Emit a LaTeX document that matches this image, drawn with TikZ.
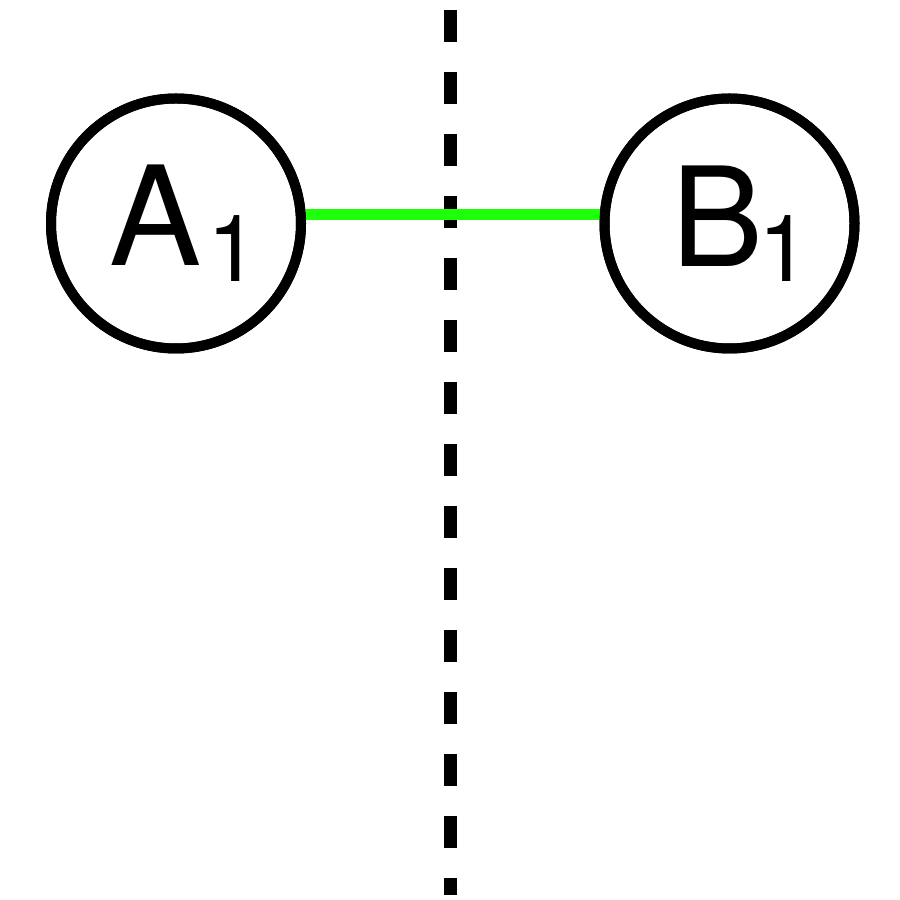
\documentclass[tikz,border=0pt]{standalone}
\usepackage{fontspec}
\setmainfont{TeX Gyre Heros}
\definecolor{linkgreen}{RGB}{30,255,10}
\begin{document}
\begin{tikzpicture}[x=1pt,y=1pt,
  vertex/.style={circle,draw=black,line width=10pt,minimum size=250pt,inner sep=0pt},
  bigletter/.style={inner sep=0pt,anchor=base west,font=\fontsize{138}{138}\selectfont},
  subdigit/.style={inner sep=0pt,anchor=base west,font=\fontsize{93}{93}\selectfont},
  divider/.style={line width=13pt,dash pattern=on 32pt off 30pt},
  link/.style={draw=linkgreen,line width=11pt}]
\useasboundingbox (0,0) rectangle (900,900);
\coordinate (top) at (450.5,890);
\coordinate (bottom) at (450.5,5);
\draw[divider] (top) -- (bottom);
\node[vertex] (A) at (176,676.5) {};
\node[vertex] (B) at (729.5,676.5) {};
\draw[link] ([yshift=8.5pt]A.east) -- ([yshift=8.5pt]B.west);
\node[vertex] at (A) {};
\node[vertex] at (B) {};
\node[bigletter] (Aname) at (109,634) {A};
\node[subdigit] (Aidx) at (207,618) {1};
\node[bigletter] (Bname) at (671,633) {B};
\node[subdigit] (Bidx) at (758,618) {1};
\end{tikzpicture}
\end{document}
